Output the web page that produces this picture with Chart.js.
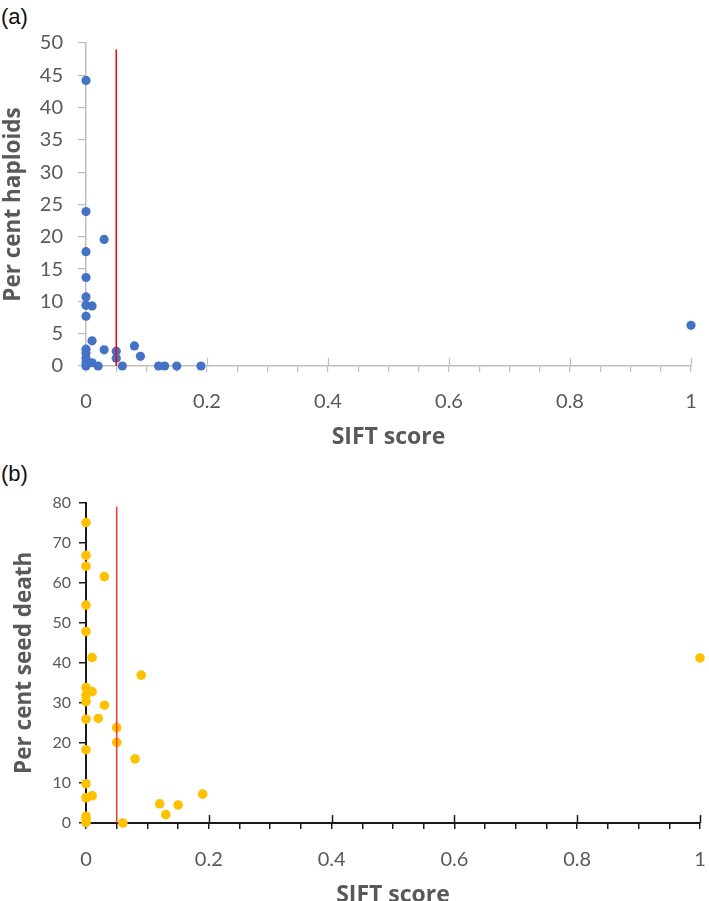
<!DOCTYPE html>
<html>
<head>
<meta charset="utf-8">
<script src="https://cdn.jsdelivr.net/npm/chart.js@4.4.1/dist/chart.umd.min.js"></script>
<style>
  html, body { margin:0; padding:0; background:#fff; width:709px; height:901px; overflow:hidden; }
  canvas { position:absolute; left:0; }
  .panel-label { position:absolute; left:1px; font-family:"Liberation Sans", Arial, sans-serif; font-size:22px; line-height:22px; color:#111; }
</style>
</head>
<body>
<div class="panel-label" id="labA" style="top:6px;">(a)</div>
<div class="panel-label" id="labB" style="top:463px;">(b)</div>
<canvas id="chartA" width="709" height="460" style="top:0px;"></canvas>
<canvas id="chartB" width="709" height="470" style="top:440px;"></canvas>
<script>
// ---------- DATA ----------
// Panel (a): SIFT score vs per cent haploids
const siftA     = [0,    0,    0.03, 0,    0,    0,    0,   0.01, 0,   0.01, 0,   0,   0,   0,   0,   0.01, 0.02, 0.03, 0.05, 0.05, 0.06, 0.08, 0.09, 0.12, 0.13, 0.15, 0.19, 1];
const haploids  = [44.2, 23.9, 19.6, 17.7, 13.7, 10.7, 9.4, 9.3,  7.7, 3.9,  2.6, 2.0, 1.2, 0.5, 0,   0.5,  0,    2.5,  2.3,  1.2,  0,    3.1,  1.5,  0,    0,    0,    0,    6.3];

// Panel (b): SIFT score vs per cent seed death
const siftB     = [0,  0,    0,    0.03, 0,    0,    0.01, 0.09, 0,    0.01, 0,    0,    0.03, 0.02, 0,    0.05, 0.05, 0,    0.08, 0,   0.01, 0,   0.19, 0.12, 0.15, 0.13, 0,   0,   0,   0.06, 1];
const seedDeath = [75, 66.8, 64.1, 61.5, 54.4, 47.8, 41.3, 36.9, 33.8, 32.8, 31.9, 30.3, 29.4, 26.1, 25.9, 23.8, 20.1, 18.3, 16.0, 9.8, 6.8, 6.3, 7.2,  4.8,  4.5,  2.1,  1.7, 0.9, 0.1, 0,    41.2];

// Cut-off line at SIFT = 0.05
const cutoffSift = [0.05, 0.05];
const cutoffA    = [0, 49];
const cutoffB    = [0, 79];

// Axes / tick labels / titles
const xTickLabels = ['0', '0.2', '0.4', '0.6', '0.8', '1'];
const xMajorValues = [0.2, 0.4, 0.6, 0.8, 1];
const yMaxA = 50, yStepA = 5;
const yMaxB = 80, yStepB = 10;
const xTitle = 'SIFT score';
const yTitleA = 'Per cent haploids';
const yTitleB = 'Per cent seed death';

// ---------- HELPERS ----------
const pts = (xs, ys) => xs.map((x, i) => ({x, y: ys[i]}));
const isMajor = v => Math.abs(v * 5 - Math.round(v * 5)) < 1e-6;
const fmtX = v => isMajor(v) ? xTickLabels[Math.round(v * 5)] : '';

// major x ticks also extend upward across the axis line
const majorTicksPlugin = {
  id: 'majorTicksUp',
  beforeDatasetsDraw(chart, args, opts) {
    const xs = chart.scales.x;
    const ctx = chart.ctx;
    ctx.save();
    ctx.strokeStyle = opts.color;
    ctx.lineWidth = opts.width;
    ctx.beginPath();
    xMajorValues.forEach(v => {
      const px = Math.round(xs.getPixelForValue(v)) + 0.5;
      ctx.moveTo(px, xs.top);
      ctx.lineTo(px, xs.top - opts.up);
    });
    ctx.stroke();
    ctx.restore();
  }
};

function makeChart(id, cfg) {
  const chart = new Chart(document.getElementById(id), {
    type: 'scatter',
    data: {
      datasets: [
        { data: pts(cutoffSift, cfg.cutoff), showLine: true, borderColor: cfg.lineColor, borderWidth: 1.5, pointRadius: 0, clip: false },
        { data: pts(cfg.xs, cfg.ys), backgroundColor: cfg.color, borderColor: cfg.color, borderWidth: 0,
          pointRadius: cfg.radius, pointHoverRadius: cfg.radius, clip: false }
      ]
    },
    options: {
      responsive: false,
      animation: false,
      devicePixelRatio: 1,
      layout: { padding: { left: 0, top: cfg.area.top, right: 709 - cfg.area.right, bottom: 0 } },
      plugins: {
        legend: { display: false },
        tooltip: { enabled: false },
        majorTicksUp: { color: cfg.axisColor, width: cfg.tickWidth, up: 8 }
      },
      scales: {
        x: {
          type: 'linear', min: 0, max: 1,
          afterFit: s => { s.height = cfg.xAxisH; s.paddingLeft = 0; s.paddingRight = 0; },
          border: { color: cfg.axisColor, width: cfg.axisWidth },
          grid: { drawOnChartArea: false, drawTicks: true, tickLength: 6, color: cfg.axisColor, lineWidth: cfg.tickWidth },
          ticks: { stepSize: 0.05, autoSkip: false, maxRotation: 0, padding: cfg.xTickPad, color: '#595959',
                   font: { family: 'Lato', size: 20 }, callback: v => fmtX(v) },
          title: { display: true, text: xTitle, color: '#595959',
                   font: { family: 'Open Sans', size: 23, weight: 'bold' }, padding: { top: 0, bottom: cfg.xTitlePad } }
        },
        y: {
          type: 'linear', min: 0, max: cfg.yMax,
          afterFit: s => { s.width = cfg.area.left; },
          border: { color: cfg.axisColor, width: cfg.axisWidth },
          grid: { drawOnChartArea: false, drawTicks: true, tickLength: cfg.yTickLen, color: cfg.axisColor, lineWidth: cfg.tickWidth },
          ticks: { stepSize: cfg.yStep, padding: cfg.yTickPad, color: '#595959', font: { family: 'Lato', size: cfg.yTickSize } },
          title: { display: true, text: cfg.yTitle, color: '#595959',
                   font: { family: 'Open Sans', size: 22.5, weight: 'bold' }, padding: { top: cfg.yTitlePad, bottom: 0 } }
        }
      }
    },
    plugins: [majorTicksPlugin]
  });
  // nudge layout padding so the plot area lands where the reference has it
  for (let i = 0; i < 3; i++) {
    const a = chart.chartArea;
    const p = chart.options.layout.padding;
    p.right += a.right - cfg.area.right;
    p.top += cfg.area.top - a.top;
    chart.update('none');
  }
  return chart;
}

makeChart('chartA', {
  xs: siftA, ys: haploids, cutoff: cutoffA,
  color: '#4472C4', lineColor: '#ff0000', radius: 4.6,
  yMax: yMaxA, yStep: yStepA, yTitle: yTitleA,
  area: { left: 86, top: 43, right: 691 }, xAxisH: 94,
  axisColor: '#bfbfbf', axisWidth: 1.5, tickWidth: 1.25,
  xTickPad: 18, xTitlePad: 9, yTickLen: 8, yTickPad: 15, yTickSize: 20, yTitlePad: 0
});

makeChart('chartB', {
  xs: siftB, ys: seedDeath, cutoff: cutoffB,
  color: '#FFC000', lineColor: '#ff3333', radius: 4.8,
  yMax: yMaxB, yStep: yStepB, yTitle: yTitleB,
  area: { left: 86, top: 62.5, right: 700 }, xAxisH: 87,
  axisColor: '#1a1a1a', axisWidth: 2, tickWidth: 1.5,
  xTickPad: 19, xTitlePad: 1, yTickLen: 7, yTickPad: 8, yTickSize: 16, yTitlePad: 11
});
</script>
</body>
</html>
